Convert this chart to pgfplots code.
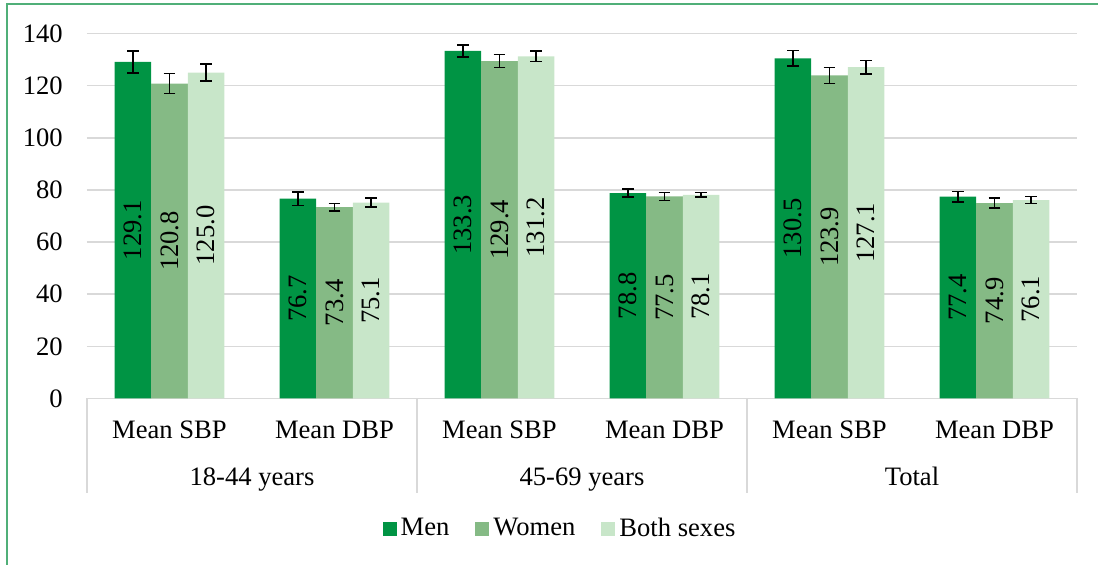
\documentclass[border=0pt]{standalone}
\usepackage{fontspec}
\setmainfont{Liberation Serif}
\usepackage{pgfplots}
\pgfplotsset{compat=1.18}
\definecolor{mencol}{RGB}{0,148,68}
\definecolor{womcol}{RGB}{133,186,133}
\definecolor{bothcol}{RGB}{200,230,201}
\definecolor{gridcol}{RGB}{217,217,217}
\definecolor{framecol}{RGB}{80,175,120}
\begin{document}
\fontsize{13.3pt}{16pt}\selectfont
\begin{tikzpicture}
\useasboundingbox (0,0) rectangle (549pt,282.5pt);
\draw[framecol, line width=1pt] (3.25pt,-10pt) -- (3.25pt,280.25pt) -- (560pt,280.25pt);
\begin{axis}[
  at={(43.5pt,83.25pt)}, anchor=south west,
  scale only axis, width=495pt, height=182.5pt,
  clip=false,
  ybar=0pt, bar width=0.222,
  xmin=-0.5, xmax=5.5, ymin=0, ymax=140,
  xtick={0,1,2,3,4,5},
  xticklabels={Mean SBP,Mean DBP,Mean SBP,Mean DBP,Mean SBP,Mean DBP},
  ytick={0,20,40,60,80,100,120,140},
  /pgf/number format/assume math mode=true,
  major tick length=0pt,
  axis lines*=left,
  y axis line style={draw=none},
  x axis line style={draw=gridcol, line width=0.75pt},
  ymajorgrids, grid style={draw=gridcol, line width=0.75pt},
  xticklabel style={anchor=base, yshift=-20pt},
  yticklabel style={xshift=-7.5pt},
  nodes near coords={\pgfmathprintnumber[fixed,fixed zerofill,precision=1]{\pgfplotspointmeta}},
  point meta=y,
  visualization depends on={rawy \as \rawy},
  every node near coord/.append style={anchor=center, yshift={-0.651786pt*\rawy}, rotate=90, text=black},
  error bars/y dir=both, error bars/y explicit,
  error bars/error bar style={black, line width=0.8pt},
  error bars/error mark options={black, rotate=90, mark size=2.9pt, line width=0.8pt},
  legend columns=3,
  legend image code/.code={\fill[#1] (0pt,-3.5pt) rectangle (7pt,3.5pt);},
  legend style={draw=none, fill=none, at={(0.4788,-0.3575)}, anchor=center,
    /tikz/every even column/.append style={column sep=11pt}},
]
\addplot[fill=mencol, draw=none] coordinates {
  (0,129.1) +- (0,4.2)
  (1,76.7) +- (0,2.6)
  (2,133.3) +- (0,2.3)
  (3,78.8) +- (0,1.6)
  (4,130.5) +- (0,3.0)
  (5,77.4) +- (0,2.0)
};
\addplot[fill=womcol, draw=none] coordinates {
  (0,120.8) +- (0,3.8)
  (1,73.4) +- (0,1.4)
  (2,129.4) +- (0,2.5)
  (3,77.5) +- (0,1.5)
  (4,123.9) +- (0,3.1)
  (5,74.9) +- (0,1.9)
};
\addplot[fill=bothcol, draw=none] coordinates {
  (0,125.0) +- (0,3.3)
  (1,75.1) +- (0,1.7)
  (2,131.2) +- (0,2.0)
  (3,78.1) +- (0,0.9)
  (4,127.1) +- (0,2.6)
  (5,76.1) +- (0,1.3)
};
\legend{Men,Women,Both sexes}
\draw[gridcol, line width=0.75pt] (axis cs:-0.5,0) -- ++(0pt,-47.25pt);
\draw[gridcol, line width=0.75pt] (axis cs:1.5,0) -- ++(0pt,-47.25pt);
\draw[gridcol, line width=0.75pt] (axis cs:3.5,0) -- ++(0pt,-47.25pt);
\draw[gridcol, line width=0.75pt] (axis cs:5.5,0) -- ++(0pt,-47.25pt);
\node[anchor=base, yshift=-43.75pt] at (axis cs:0.5,0) {18-44 years};
\node[anchor=base, yshift=-43.75pt] at (axis cs:2.5,0) {45-69 years};
\node[anchor=base, yshift=-43.75pt] at (axis cs:4.5,0) {Total};
\end{axis}
\end{tikzpicture}
\end{document}
